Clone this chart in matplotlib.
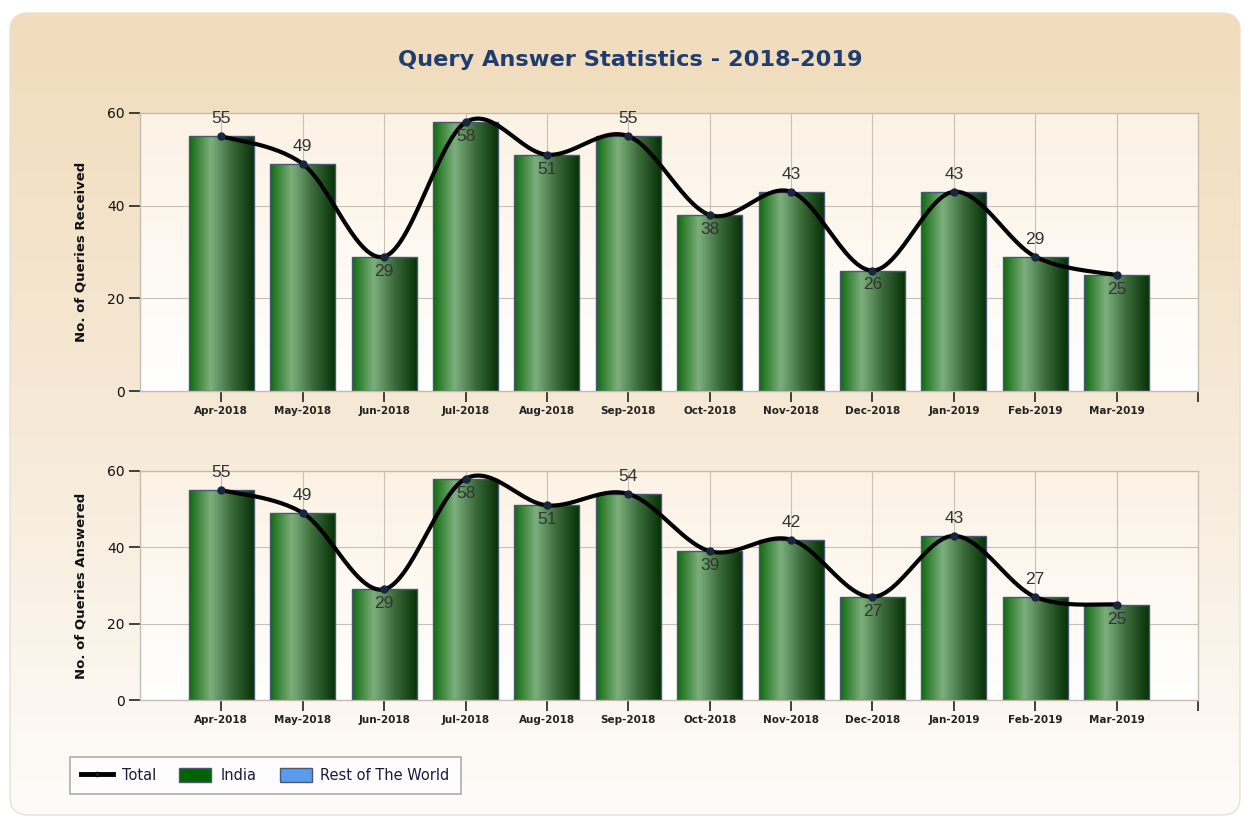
import numpy as np
import matplotlib
matplotlib.use("Agg")
import matplotlib.pyplot as plt
from matplotlib.patches import FancyBboxPatch, Patch
from matplotlib.lines import Line2D
from matplotlib.colors import LinearSegmentedColormap

# ---------------- data ----------------
months = ["Apr-2018", "May-2018", "Jun-2018", "Jul-2018", "Aug-2018", "Sep-2018",
          "Oct-2018", "Nov-2018", "Dec-2018", "Jan-2019", "Feb-2019", "Mar-2019"]
received = [55, 49, 29, 58, 51, 55, 38, 43, 26, 43, 29, 25]
answered = [55, 49, 29, 58, 51, 54, 39, 42, 27, 43, 27, 25]
title = "Query Answer Statistics - 2018-2019"
ylabels = ["No. of Queries Received", "No. of Queries Answered"]
legend_labels = ["Total", "India", "Rest of The World"]
# label placement (style): True = above point
label_above = [True, True, False, False, False, True, False, True, False, True, True, False]

W, H = 1244, 819
fig = plt.figure(figsize=(W / 100, H / 100), dpi=100)
fig.patch.set_facecolor("white")

# ---------- background panel with vertical gradient ----------
bg = fig.add_axes([0, 0, 1, 1], zorder=-10)
bg.set_xlim(0, W)
bg.set_ylim(H, 0)
bg.axis("off")
panel_cmap = LinearSegmentedColormap.from_list(
    "panel", [(0.0, "#f1dcbb"), (0.5, "#f6e9d6"), (1.0, "#fefcfa")])
grad = np.linspace(0, 1, 256).reshape(-1, 1)
im = bg.imshow(grad, cmap=panel_cmap, extent=(10, 1240, 815, 13), aspect="auto", zorder=0)
panel = FancyBboxPatch((10, 13), 1230, 802, boxstyle="round,pad=0,rounding_size=18",
                       facecolor="none", edgecolor="#e6e0d8", lw=1.0, zorder=1)
bg.add_patch(panel)
im.set_clip_path(panel)

fig.text(630 / W, 1 - 60 / H, title, ha="center", va="center", fontsize=16.2,
         fontweight="bold", color="#1f3d6e")

bar_cmap = LinearSegmentedColormap.from_list(
    "bar", [(0.0, "#0f6a0f"), (0.33, "#7daf7d"), (0.65, "#3a6a3a"), (1.0, "#053005")])
area_cmap = LinearSegmentedColormap.from_list("area", ["#fcf2e4", "#ffffff"])


def catmull_rom(xs, ys, n=30):
    pts = np.column_stack([xs, ys]).astype(float)
    pts = np.vstack([pts[0], pts, pts[-1]])
    out = []
    for i in range(1, len(pts) - 2):
        p0, p1, p2, p3 = pts[i - 1], pts[i], pts[i + 1], pts[i + 2]
        t = np.linspace(0, 1, n)[:, None]
        seg = 0.5 * ((2 * p1) + (-p0 + p2) * t + (2 * p0 - 5 * p1 + 4 * p2 - p3) * t ** 2
                     + (-p0 + 3 * p1 - 3 * p2 + p3) * t ** 3)
        out.append(seg)
    out = np.vstack(out)
    return out[:, 0], out[:, 1]


def draw_panel(rect, values, ylabel):
    ax = fig.add_axes(rect)
    ax.set_facecolor("none")
    x = np.arange(len(months))
    ax.imshow(grad, cmap=area_cmap, extent=(-1, len(months), 0, 60), aspect="auto",
              zorder=0)
    # grid
    for gx in range(len(months)):
        ax.axvline(gx, color="#c9c0b2", lw=0.8, zorder=1)
    for gy in (20, 40):
        ax.axhline(gy, color="#c9c0b2", lw=0.8, zorder=1)
    for s in ax.spines.values():
        s.set_color("#c4bcb0")
        s.set_linewidth(1.0)
    # bars
    bars = ax.bar(x, values, width=0.8, facecolor="none", edgecolor="#4a5878",
                  linewidth=1.0, zorder=3)
    for b in bars:
        bx, by, bw, bh = b.get_x(), b.get_y(), b.get_width(), b.get_height()
        gim = ax.imshow(np.linspace(0, 1, 256).reshape(1, -1), cmap=bar_cmap,
                        extent=(bx, bx + bw, by, by + bh), aspect="auto", zorder=2)
        gim.set_clip_path(b)
    ax.set_xlim(-1, len(months))
    ax.set_ylim(0, 60)
    # smooth line
    sx, sy = catmull_rom(x, values)
    ax.plot(sx, sy, color="black", lw=3, zorder=5, solid_capstyle="round")
    ax.plot(x, values, "o", color="#1a2540", ms=5, zorder=6)
    for xi, v, up in zip(x, values, label_above):
        ax.annotate(str(v), (xi, v), xytext=(0, 7 if up else -5),
                    textcoords="offset points", ha="center",
                    va="bottom" if up else "top", fontsize=12.5,
                    family="Liberation Sans", color="#333333", zorder=7)
    ax.set_xticks(list(x) + [len(months)])
    ax.set_xticklabels(months + [""], fontsize=7.5, fontweight="bold", color="#222222")
    ax.set_yticks([0, 20, 40, 60])
    ax.set_yticklabels(["0", "20", "40", "60"], fontsize=10, color="#111111")
    ax.tick_params(axis="both", length=8, width=1.2, color="#222222", pad=3)
    ax.set_ylabel(ylabel, fontsize=9.5, fontweight="bold", color="#111111", labelpad=14)
    return ax


ax1 = draw_panel([140 / W, 1 - 391 / H, 1058 / W, 278 / H], received, ylabels[0])
ax2 = draw_panel([140 / W, 1 - 700 / H, 1058 / W, 229 / H], answered, ylabels[1])

handles = [Line2D([0], [0], color="black", lw=3.5, marker="o", ms=3, mfc="#1a2540"),
           Patch(facecolor="#006400", edgecolor="#4a5878"),
           Patch(facecolor="#5b9bec", edgecolor="#4a5878")]
leg = fig.legend(handles, legend_labels, loc="lower left",
                 bbox_to_anchor=(70 / W, 1 - 794 / H), ncol=3,
                 prop={"size": 10.5},
                 frameon=True, fancybox=False, edgecolor="#999999",
                 handlelength=2.2, handleheight=1.1, handletextpad=0.6,
                 columnspacing=1.6, borderpad=0.75, borderaxespad=0)
leg.get_frame().set_facecolor("white")
leg.get_frame().set_linewidth(1.2)
for t in leg.get_texts():
    t.set_color("#1a1a40")

fig.savefig("out.png", dpi=100)
